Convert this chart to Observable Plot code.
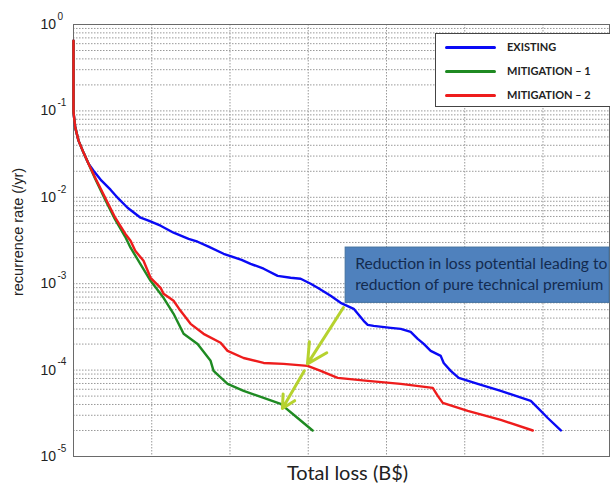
<!DOCTYPE html>
<html>
<head>
<meta charset="utf-8">
<script src="https://cdn.jsdelivr.net/npm/d3@7"></script>
<script src="https://cdn.jsdelivr.net/npm/@observablehq/plot@0.6"></script>
<style>
  html, body { margin: 0; padding: 0; background: #fff; }
  #wrap { position: relative; width: 610px; height: 490px; overflow: hidden; }
  #legend { position: absolute; left: 435px; top: 33px; width: 190px; height: 74px;
            background: #fff; border: 1px solid #444; box-sizing: border-box; }
  .lg-row { position: absolute; left: 9px; height: 16px; }
  .lg-line { position: absolute; left: 0; top: 7px; width: 51px; height: 0; border-top: 3px solid; border-radius: 2px; }
  .lg-text { position: absolute; left: 62px; top: 0; white-space: nowrap;
             font: bold 11px "Lato", "Liberation Sans", sans-serif; color: #222; line-height: 16px; }
  #ylabel { position: absolute; left: 18px; top: 232px; white-space: nowrap;
            transform: translate(-50%, -50%) rotate(-90deg);
            font: 14.5px "Liberation Sans", Arial, sans-serif; color: #222; }
</style>
</head>
<body>
<div id="wrap"></div>
<script>
// ---- data (loss in B$, recurrence rate per year) ----
const seriesNames = ["EXISTING", "MITIGATION – 1", "MITIGATION – 2"];
const seriesColors = ["#0a0af5", "#1f8a22", "#ee1c1c"];

const lossExisting = [0, 0, 0.002, 0.022, 0.064, 0.128, 0.192, 0.256, 0.358, 0.473, 0.575, 0.691, 0.857, 0.959, 1.113, 1.279, 1.471, 1.586, 1.726, 1.918, 2.148, 2.263, 2.430, 2.609, 2.775, 2.903, 3.031, 3.120, 3.286, 3.414, 3.581, 3.708, 3.760, 3.836, 4.054, 4.182, 4.309, 4.399, 4.476, 4.565, 4.693, 4.731, 4.821, 4.923, 5.166, 5.460, 5.844, 5.934, 6.061, 6.228];
const rateExisting = [0.65, 0.1, 0.0931, 0.0645, 0.0453, 0.0329, 0.0245, 0.0203, 0.01557, 0.01225, 0.00964, 0.00757, 0.00581, 0.00536, 0.00469, 0.00389, 0.00331, 0.00306, 0.00268, 0.00222, 0.00189, 0.00170, 0.00149, 0.00123, 0.00117, 0.00114, 0.000998, 0.000896, 0.000724, 0.000601, 0.000512, 0.000372, 0.000334, 0.000325, 0.000308, 0.000300, 0.000277, 0.000230, 0.000201, 0.000167, 0.000146, 0.000121, 0.0000979, 0.0000812, 0.0000692, 0.0000574, 0.0000440, 0.0000365, 0.0000279, 0.00002];

const lossMit1 = [0, 0, 0.002, 0.022, 0.064, 0.128, 0.192, 0.277, 0.405, 0.533, 0.661, 0.729, 0.985, 1.151, 1.279, 1.407, 1.586, 1.752, 1.790, 1.969, 2.174, 2.430, 2.647, 2.864, 3.056];
const rateMit1 = [0.65, 0.1, 0.0931, 0.0645, 0.0453, 0.0329, 0.0245, 0.01644, 0.00938, 0.00550, 0.00349, 0.00261, 0.00108, 0.000687, 0.000448, 0.000263, 0.000201, 0.000128, 0.0000979, 0.0000692, 0.0000574, 0.0000476, 0.0000406, 0.0000279, 0.00002];

const lossMit2 = [0, 0, 0.002, 0.022, 0.064, 0.128, 0.192, 0.277, 0.405, 0.533, 0.661, 0.729, 0.789, 0.895, 0.985, 1.113, 1.151, 1.279, 1.368, 1.496, 1.662, 1.880, 1.969, 2.174, 2.430, 2.685, 2.992, 3.159, 3.376, 3.760, 4.182, 4.591, 4.655, 4.719, 5.038, 5.460, 5.870];
const rateMit2 = [0.65, 0.1, 0.0931, 0.0645, 0.0453, 0.0329, 0.0245, 0.01687, 0.00989, 0.00581, 0.00379, 0.00314, 0.00240, 0.00184, 0.00117, 0.000896, 0.000763, 0.000634, 0.000485, 0.000343, 0.000263, 0.000207, 0.000167, 0.000138, 0.000121, 0.000118, 0.000112, 0.0000979, 0.0000812, 0.0000750, 0.0000692, 0.0000622, 0.0000503, 0.0000417, 0.0000337, 0.0000265, 0.00002];

// axis / grid values
const xDomain = [0, 6.85];
const xGridTicks = [1, 2, 3, 4, 5, 6];
const yDecadeExps = [0, -1, -2, -3, -4, -5];
const yMinorMult = [2, 3, 4, 5, 6, 7, 8, 9];
const xLabel = "Total loss (B$)";
const yLabel = "recurrence rate (/yr)";

// annotation
const noteLines = ["Reduction in loss potential leading to", "reduction of pure technical premium"];
const noteLineLoss = [3.60, 3.60];
const noteLineRate = [0.00170, 0.00097];
const noteBoxLoss = [3.478, 6.85];
const noteBoxRate = [0.00060, 0.00262];
const arrowLoss1 = [3.45, 2.95];
const arrowRate1 = [0.00053, 0.000098];
const arrowLoss2 = [2.99, 2.67];
const arrowRate2 = [0.000118, 0.0000360];

// ---- build tables ----
const toRows = (xs, ys, name) => xs.map((x, i) => ({loss: x, rate: ys[i], name}));
const rowsExisting = toRows(lossExisting, rateExisting, seriesNames[0]);
const rowsMit1 = toRows(lossMit1, rateMit1, seriesNames[1]);
const rowsMit2 = toRows(lossMit2, rateMit2, seriesNames[2]);

const yGrid = [];
for (const e of yDecadeExps) {
  yGrid.push(10 ** e);
  if (e > -5) for (const m of yMinorMult) yGrid.push(m * 10 ** (e - 1));
}
const arrows = arrowLoss1.map((x1, i) => ({x1, y1: arrowRate1[i], x2: arrowLoss2[i], y2: arrowRate2[i]}));
const noteRows = noteLines.map((t, i) => ({t, x: noteLineLoss[i], y: noteLineRate[i]}));

const gridStyle = {stroke: "#999", strokeWidth: 1, strokeDasharray: "1.5,1.5"};

const chart = Plot.plot({
  width: 610, height: 490,
  marginLeft: 73, marginRight: 1, marginTop: 24, marginBottom: 34,
  style: {background: "transparent", overflow: "visible"},
  x: {domain: xDomain, axis: null},
  y: {type: "log", domain: [1e-5, 1], axis: null},
  marks: [
    Plot.ruleX(xGridTicks, gridStyle),
    Plot.ruleY(yGrid, gridStyle),
    Plot.frame({stroke: "#6a6a6a", strokeWidth: 1}),
    Plot.line(rowsExisting, {x: "loss", y: "rate", stroke: seriesColors[0], strokeWidth: 2.4}),
    Plot.line(rowsMit1, {x: "loss", y: "rate", stroke: seriesColors[1], strokeWidth: 2.4}),
    Plot.line(rowsMit2, {x: "loss", y: "rate", stroke: seriesColors[2], strokeWidth: 2.4}),
    Plot.rect([0], {x1: () => noteBoxLoss[0], x2: () => noteBoxLoss[1], y1: () => noteBoxRate[0], y2: () => noteBoxRate[1], fill: "#4f81bd", stroke: "#41709f", strokeWidth: 1}),
    Plot.text(noteRows, {x: "x", y: "y", text: "t", textAnchor: "start", fill: "#132b50", fontSize: 15.6, fontFamily: "Lato, 'Open Sans', sans-serif"}),
    Plot.arrow(arrows, {x1: "x1", y1: "y1", x2: "x2", y2: "y2", stroke: "#b6d22e", strokeWidth: 3, headLength: 13, headAngle: 55}),
    // y tick labels: base + superscript exponent
    Plot.text(yDecadeExps, {frameAnchor: "left", y: d => 10 ** d, text: () => "10", textAnchor: "start", dx: -33, fontSize: 14, fill: "#222", fontFamily: "'Liberation Sans', Arial, sans-serif"}),
    Plot.text(yDecadeExps, {frameAnchor: "left", y: d => 10 ** d, text: d => String(d), textAnchor: "start", dx: -16, dy: -8, fontSize: 10, fill: "#222", fontFamily: "'Liberation Sans', Arial, sans-serif"}),
    // x axis label
    Plot.text([xLabel], {frameAnchor: "bottom", dx: 6, dy: 23, fontSize: 20, fill: "#222", fontFamily: "Lato, 'Open Sans', sans-serif"})
  ]
});

const wrap = document.getElementById("wrap");
wrap.appendChild(chart);

// y axis label
const yl = document.createElement("div");
yl.id = "ylabel";
yl.textContent = yLabel;
wrap.appendChild(yl);

// legend overlay
const legend = document.createElement("div");
legend.id = "legend";
seriesNames.forEach((name, i) => {
  const row = document.createElement("div");
  row.className = "lg-row";
  row.style.top = (5 + i * 24) + "px";
  const ln = document.createElement("div");
  ln.className = "lg-line";
  ln.style.borderTopColor = seriesColors[i];
  const tx = document.createElement("div");
  tx.className = "lg-text";
  tx.textContent = name;
  row.appendChild(ln); row.appendChild(tx);
  legend.appendChild(row);
});
wrap.appendChild(legend);
</script>
</body>
</html>
